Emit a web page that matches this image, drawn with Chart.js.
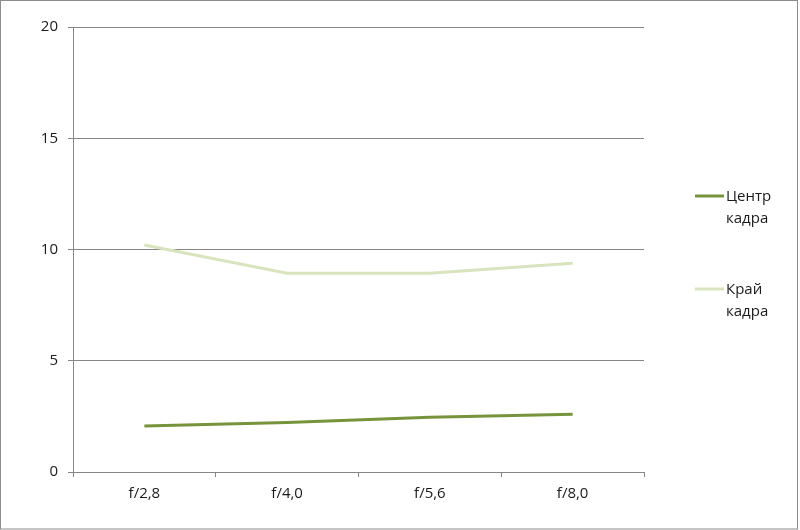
<!DOCTYPE html>
<html>
<head>
<meta charset="utf-8">
<script src="https://cdn.jsdelivr.net/npm/chart.js@4"></script>
<style>
  html, body { margin: 0; padding: 0; background: #fff; }
  #wrap { width: 800px; height: 530px; position: relative; }
</style>
</head>
<body>
<div id="wrap"><canvas id="chart"></canvas></div>
<script>
const apertures = ["f/2,8", "f/4,0", "f/5,6", "f/8,0"];
const centerValues = [2.07, 2.22, 2.46, 2.6];
const edgeValues = [10.2, 8.93, 8.93, 9.38];
const seriesNames = ["Центр кадра", "Край кадра"];

const gridColor = "#868686";
const textColor = "#1a1a1a";
const fontFamily = "'Open Sans', 'Noto Sans', sans-serif";

// legend on the right, label wrapped onto two lines like the original
const rightLegend = {
  id: "rightLegend",
  afterDraw(chart) {
    const ctx = chart.ctx;
    const rows = [196, 289];
    ctx.save();
    chart.data.datasets.forEach((ds, i) => {
      const y = rows[i];
      ctx.strokeStyle = ds.borderColor;
      ctx.lineWidth = 3;
      ctx.beginPath();
      ctx.moveTo(695, y);
      ctx.lineTo(724, y);
      ctx.stroke();
      ctx.fillStyle = textColor;
      ctx.font = "15px " + fontFamily;
      ctx.textBaseline = "middle";
      ctx.textAlign = "left";
      ds.label.split(" ").forEach((word, j) => {
        ctx.fillText(word, 726, y + 1 + j * 22);
      });
    });
    // outer frame
    ctx.strokeStyle = "#8c8c8c";
    ctx.lineWidth = 1;
    ctx.strokeRect(0.5, 0.5, 797, 528.5);
    ctx.restore();
  }
};

const ctx = document.getElementById("chart").getContext("2d");
new Chart(ctx, {
  type: "line",
  data: {
    labels: apertures,
    datasets: [
      {
        label: seriesNames[0],
        data: centerValues,
        borderColor: "#77933c",
        borderWidth: 3,
        pointRadius: 0,
        tension: 0,
      },
      {
        label: seriesNames[1],
        data: edgeValues,
        borderColor: "#d7e4bd",
        borderWidth: 3,
        pointRadius: 0,
        tension: 0,
      },
    ],
  },
  options: {
    responsive: true,
    maintainAspectRatio: false,
    animation: false,
    layout: { padding: { top: 27, right: 156, bottom: 0, left: 0 } },
    plugins: {
      legend: { display: false },
      tooltip: { enabled: false },
    },
    scales: {
      x: {
        offset: true,
        grid: {
          offset: true,
          drawOnChartArea: false,
          drawTicks: true,
          tickLength: 5,
          color: gridColor,
        },
        border: { color: gridColor },
        ticks: {
          color: textColor,
          font: { family: fontFamily, size: 15 },
          padding: 8,
          maxRotation: 0,
        },
        afterFit(scale) { scale.height = 58; },
      },
      y: {
        min: 0,
        max: 20,
        ticks: {
          stepSize: 5,
          color: textColor,
          font: { family: fontFamily, size: 15 },
          padding: 10,
        },
        grid: {
          color: gridColor,
          tickLength: 5,
        },
        border: { color: gridColor },
        afterFit(scale) { scale.width = 73; },
      },
    },
  },
  plugins: [rightLegend],
});
</script>
</body>
</html>
